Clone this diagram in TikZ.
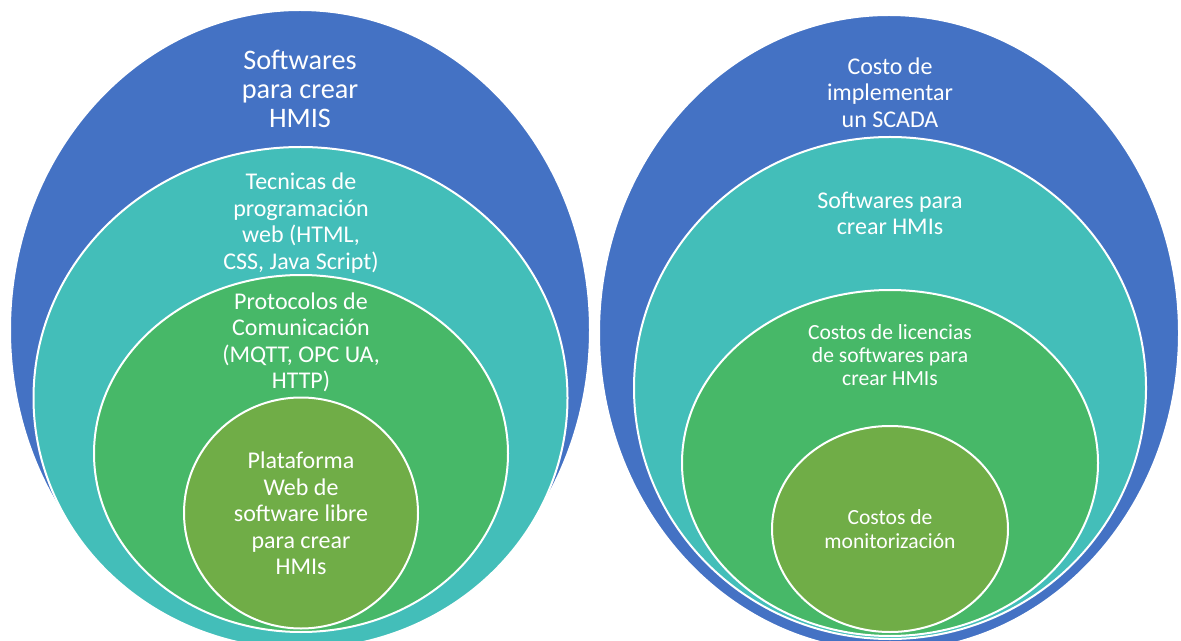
\documentclass[tikz,border=0pt]{standalone}
\usepackage{fontspec}
\setmainfont{Carlito}
\usetikzlibrary{shapes.geometric}
\definecolor{cblue}{RGB}{68,114,196}
\definecolor{cteal}{RGB}{67,190,185}
\definecolor{cgreen}{RGB}{71,184,104}
\definecolor{colive}{RGB}{112,173,71}
\tikzset{
  ring/.style={ellipse, draw=white, line width=1.5pt, inner sep=0pt, outer sep=0pt},
  lbl/.style={text=white, align=center, inner sep=0pt},
  big/.style={lbl, font=\fontsize{21.2}{22}\selectfont},
  mid/.style={lbl, font=\fontsize{18}{19.9}\selectfont},
  lic/.style={lbl, font=\fontsize{16.2}{17.25}\selectfont},
  small/.style={lbl, font=\fontsize{16.2}{18}\selectfont}
}
\begin{document}
\begin{tikzpicture}[x=0.75pt,y=-0.75pt]
\useasboundingbox (0,0) rectangle (1181,641);
\clip (0,0) rectangle (1181,641);
% left set
\node[ring, fill=cblue, minimum width=435pt, minimum height=480pt] (LB) at (300,330) {};
\node[ring, fill=cteal, minimum width=400.5pt, minimum height=376.5pt] (LT) at (300.5,398) {};
\node[ring, fill=cgreen, minimum width=310.5pt, minimum height=267.75pt] (LG) at (301,453.5) {};
\node[ring, fill=colive, minimum width=175.5pt, minimum height=173.25pt] (LO) at (301,513) {};
% right set
\node[ring, fill=cblue, minimum width=435pt, minimum height=477pt] (RB) at (889,333) {};
\node[ring, fill=cteal, minimum width=384pt, minimum height=376.5pt] (RT) at (890,388) {};
\node[ring, fill=cgreen, minimum width=312pt, minimum height=259.5pt] (RG) at (890,463) {};
\node[ring, fill=colive, minimum width=177pt, minimum height=154.5pt] (RO) at (890,529) {};
% left labels
\node[big] (tLB) at (300,89) {Softwares\\para crear\\HMIS};
\node[mid] (tLT) at (301,223) {Tecnicas de\\programación\\web (HTML,\\CSS, Java Script)};
\node[mid] (tLG) at (301,342.5) {Protocolos de\\Comunicación\\(MQTT, OPC UA,\\HTTP)};
\node[mid] (tLO) at (301,513.5) {Plataforma\\Web de\\software libre\\para crear\\HMIs};
% right labels
\node[mid] (tRB) at (890,92.5) {Costo de\\implementar\\un SCADA};
\node[mid] (tRT) at (890,213.5) {Softwares para\\crear HMIs};
\node[lic] (tRG) at (890,355) {Costos de licencias\\de softwares para\\crear HMIs};
\node[small] (tRO) at (890,529) {Costos de\\monitorización};
\end{tikzpicture}
\end{document}
